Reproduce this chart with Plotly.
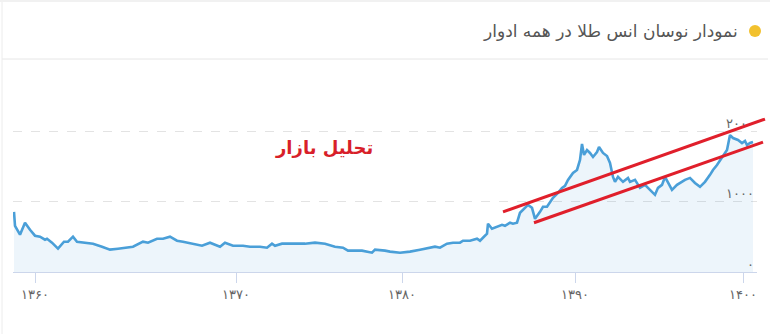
import plotly.graph_objects as go

# Ordinal time position (Highstock-style ordinal axis) and ounce price values
t = [1, 2, 7, 12, 17, 22, 27, 32, 34, 39, 45, 51, 55, 60, 64, 72, 80, 89, 97, 105,
     115, 120, 130, 135, 144, 150, 157, 164, 170, 175, 184, 189, 197, 207, 212, 220, 230, 237, 247, 254,
     259, 262, 269, 282, 292, 302, 312, 322, 330, 335, 349, 359, 362, 372, 377, 387, 397, 407, 417, 422,
     427, 434, 440, 447, 450, 457, 464, 467, 474, 475, 479, 484, 489, 492, 497, 500, 504, 507, 512, 515,
     519, 522, 527, 530, 534, 537, 540, 545, 549, 552, 555, 560, 564, 567, 569, 571, 574, 577, 580, 584,
     586, 590, 594, 597, 600, 602, 605, 610, 615, 617, 622, 627, 632, 637, 642, 645, 649, 652, 655, 659,
     664, 669, 672, 677, 682, 687, 692, 697, 700, 704, 709, 714, 717, 720, 725, 729, 732, 734, 737, 740]
price = [854, 656, 529, 699, 600, 515, 501, 458, 472, 416, 331, 430, 430, 501, 430, 416, 402, 359, 317, 331,
         345, 359, 430, 416, 472, 472, 501, 444, 430, 416, 388, 373, 416, 359, 416, 373, 373, 359, 359, 345,
         402, 373, 402, 402, 402, 416, 402, 359, 345, 303, 303, 274, 317, 303, 289, 274, 289, 317, 345, 359,
         345, 402, 416, 416, 444, 444, 472, 444, 543, 685, 614, 642, 670, 656, 699, 685, 699, 840, 911, 953,
         911, 755, 854, 925, 925, 996, 1052, 1123, 1194, 1222, 1307, 1406, 1448, 1590, 1816, 1661, 1731, 1689, 1632, 1703,
         1774, 1689, 1646, 1547, 1349, 1279, 1349, 1279, 1335, 1279, 1307, 1194, 1236, 1166, 1095, 1194, 1236, 1349, 1279, 1166,
         1236, 1279, 1307, 1335, 1264, 1208, 1279, 1378, 1448, 1519, 1632, 1731, 1943, 1901, 1873, 1830, 1859, 1802, 1830, 1844]

# x-axis ticks (ordinal positions of the year starts) and labels
x_tick_pos = [22, 223, 389, 562, 730]
x_tick_text = ["۱۳۶۰", "۱۳۷۰", "۱۳۸۰", "۱۳۹۰", "۱۴۰۰"]
y_tick_vals = [0, 1000, 2000]
y_tick_text = ["۰", "۱۰۰۰", "۲۰۰۰"]

# hand-drawn trend channel (time position, price)
trend_upper = [(490, 854), (752, 2170)]
trend_lower = [(521, 699), (750, 1844)]

X_MAX = 744
Y_MAX = 2100

title_text = "نمودار نوسان انس طلا در همه ادوار"
watermark = "تحلیل بازار"

W, H = 770, 334
ML, MR, MT, MB = 13, 13, 124, 62
PW, PH = W - ML - MR, H - MT - MB


def pxx(px):
    return (px - ML) / PW


def pxy(py):
    return (H - MB - py) / PH


fig = go.Figure()
fig.add_trace(go.Scatter(
    x=t, y=price, mode="lines",
    line=dict(color="#4a9fd8", width=2.6),
    fill="tozeroy", fillcolor="rgba(74,159,216,0.10)",
    hoverinfo="skip", showlegend=False,
))

shapes = []
for seg in (trend_upper, trend_lower):
    (x0, y0), (x1, y1) = seg
    shapes.append(dict(type="line", xref="paper", yref="paper",
                       x0=x0 / X_MAX, y0=y0 / Y_MAX, x1=x1 / X_MAX, y1=y1 / Y_MAX,
                       line=dict(color="#e01f2b", width=3), layer="above"))
# card decorations
shapes.append(dict(type="rect", xref="paper", yref="paper",
                   x0=pxx(0), x1=pxx(W), y0=pxy(0), y1=pxy(2),
                   fillcolor="#f1f1f1", line=dict(width=0), layer="below"))
shapes.append(dict(type="line", xref="paper", yref="paper",
                   x0=pxx(2), x1=pxx(768), y0=pxy(59), y1=pxy(59),
                   line=dict(color="#e6e6e6", width=1)))
shapes.append(dict(type="line", xref="paper", yref="paper",
                   x0=pxx(2), x1=pxx(2), y0=pxy(2), y1=pxy(H),
                   line=dict(color="#ececec", width=1)))
# yellow bullet
shapes.append(dict(type="circle", xref="paper", yref="paper",
                   x0=pxx(749), x1=pxx(761), y0=pxy(25), y1=pxy(37),
                   fillcolor="#f2c12e", line=dict(width=0)))

annotations = [
    dict(text=title_text, xref="paper", yref="paper", x=pxx(740), y=pxy(31),
         xanchor="right", yanchor="middle", showarrow=False,
         font=dict(family="DejaVu Sans", size=17, color="#555555")),
    dict(text="<b>" + watermark + "</b>", xref="paper", yref="paper", x=pxx(324), y=pxy(147),
         xanchor="center", yanchor="middle", showarrow=False,
         font=dict(family="DejaVu Sans", size=18, color="#d81f2a")),
]

fig.update_layout(
    width=W, height=H,
    margin=dict(l=ML, r=MR, t=MT, b=MB, pad=0),
    paper_bgcolor="white", plot_bgcolor="white",
    shapes=shapes, annotations=annotations,
    xaxis=dict(range=[0, X_MAX], showgrid=False, zeroline=False,
               showline=True, linecolor="#ccd6eb", linewidth=1,
               tickmode="array",
               ticks="outside", ticklen=10, tickcolor="#ccd6eb",
               tickvals=x_tick_pos, ticktext=x_tick_text,
               ticklabeloverflow="allow",
               tickfont=dict(family="DejaVu Sans", size=13, color="#666666")),
    yaxis=dict(range=[0, Y_MAX], side="right", ticklabelposition="inside",
               tickmode="array",
               tickvals=y_tick_vals, ticktext=y_tick_text,
               showgrid=True, gridcolor="#e3e3e3", griddash="dash", gridwidth=1,
               zeroline=False, showline=False, ticks="",
               ticklabelshift=-8, ticklabeloverflow="allow",
               tickfont=dict(family="DejaVu Sans", size=13, color="#666666")),
)

fig.write_html("out.html")
